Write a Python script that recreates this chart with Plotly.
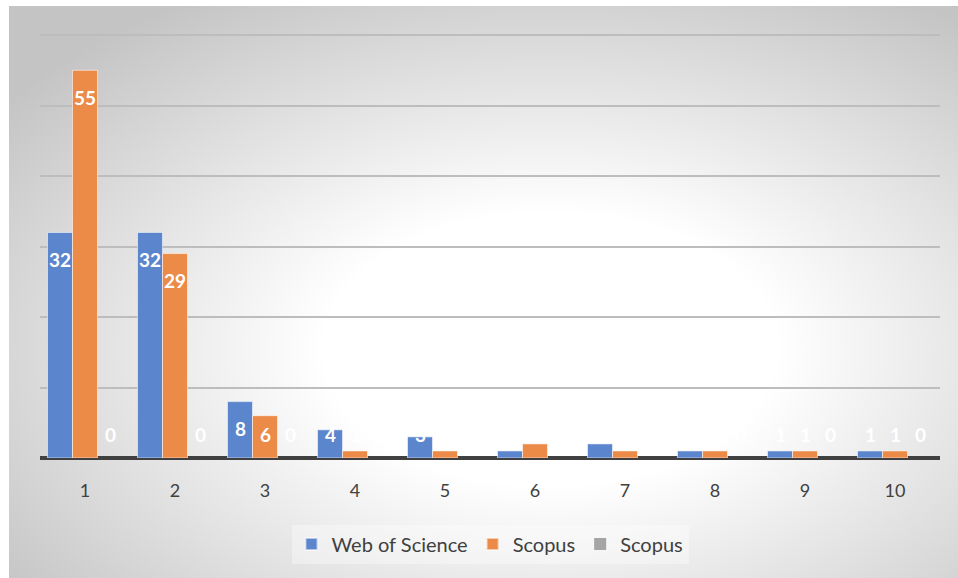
import base64
import plotly.graph_objects as go

categories = ["1", "2", "3", "4", "5", "6", "7", "8", "9", "10"]
wos = [32, 32, 8, 4, 3, 1, 2, 1, 1, 1]
scopus = [55, 29, 6, 1, 1, 2, 1, 1, 1, 1]
scopus2 = [0, 0, 0, 0, 0, 0, 0, 0, 0, 0]
series_names = ["Web of Science", "Scopus", "Scopus"]
series_values = [wos, scopus, scopus2]
colors = ["#5B85CC", "#EC8A47", "#A5A5A5"]

FONT = "Lato"

fig = go.Figure()
for name, vals, col in zip(series_names, series_values, colors):
    fig.add_trace(go.Bar(
        x=categories, y=vals, name=name,
        marker=dict(color=col, line=dict(color="rgba(255,255,255,0.55)",
                                         width=1 if any(vals) else 0)),
        hoverinfo="skip",
    ))

# data labels (white, bold), placed inside the bar end
annotations = []
shifts = [-25, 0, 25]
for vals, sh in zip(series_values, shifts):
    for i, v in enumerate(vals):
        annotations.append(dict(
            x=i, y=max(v - 3.8, 3.3), xref="x", yref="y", xshift=sh,
            text=str(v), showarrow=False,
            font=dict(family=FONT, size=19, color="white", weight="bold"),
        ))

svg = (
    '<svg xmlns="http://www.w3.org/2000/svg" width="958" height="572" viewBox="0 0 958 572" preserveAspectRatio="none">'
    '<defs><radialGradient id="g" cx="0.57" cy="0.6" r="0.72" gradientUnits="objectBoundingBox">'
    '<stop offset="0" stop-color="#ffffff"/>'
    '<stop offset="0.33" stop-color="#ffffff"/>'
    '<stop offset="1" stop-color="#c4c4c4"/>'
    '</radialGradient></defs>'
    '<rect x="0" y="0" width="958" height="572" fill="url(#g)"/>'
    '</svg>'
)
src = "data:image/svg+xml;base64," + base64.b64encode(svg.encode()).decode()

# plot area: x 40..940, y 28..458 (px)
H = 430.0
fig.update_layout(
    width=958, height=578,
    margin=dict(l=40, r=18, t=28, b=120),
    paper_bgcolor="white",
    plot_bgcolor="rgba(0,0,0,0)",
    barmode="group",
    bargap=0.167,
    bargroupgap=0,
    font=dict(family=FONT, color="#404040"),
    images=[dict(
        source=src, xref="paper", yref="paper",
        x=(9 - 40) / 900, y=(458 - 6) / H, sizex=(958 - 9) / 900, sizey=(578 - 6) / H,
        xanchor="left", yanchor="top", sizing="stretch", layer="below",
    )],
    annotations=annotations,
    showlegend=True,
    legend=dict(
        orientation="h", x=0.5, xanchor="center", y=(458 - 544) / H, yanchor="middle",
        font=dict(family=FONT, size=20, color="#404040"),
        bgcolor="rgba(255,255,255,0.35)",
        itemsizing="constant",
    ),
    xaxis=dict(
        type="category", showgrid=False, showline=False,
        tickfont=dict(family=FONT, size=18, color="#404040"),
        ticks="outside", ticklen=16, tickcolor="rgba(0,0,0,0)",
    ),
    yaxis=dict(
        range=[0, 61], tick0=0, dtick=10, showticklabels=False,
        showgrid=True, gridcolor="#bdbdbd", gridwidth=1.5,
        zeroline=True, zerolinecolor="#404040", zerolinewidth=4,
        showline=False, fixedrange=True,
    ),
)

fig.write_html(
    "out.html",
    config={"displayModeBar": False},
    post_script="document.body.style.margin='0';document.body.style.overflow='hidden';",
)
